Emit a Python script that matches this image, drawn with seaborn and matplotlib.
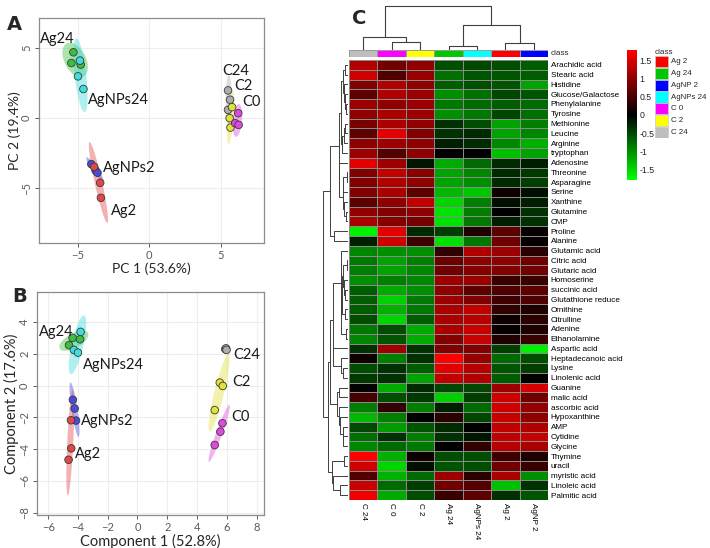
import numpy as np
import pandas as pd
import matplotlib
matplotlib.use("Agg")
import matplotlib.pyplot as plt
import seaborn as sns
from matplotlib.colors import LinearSegmentedColormap, ListedColormap, to_rgba
from matplotlib.patches import Ellipse, Rectangle

# ---------------- data: panel A (PCA) ----------------
pca_group = ["Ag24"] * 3 + ["AgNPs24"] * 3 + ["AgNPs2"] * 3 + ["Ag2"] * 3 + ["C24"] * 3 + ["C2"] * 3 + ["C0"] * 3
pca_pc1 = [-5.30, -5.44, -4.79, -4.84, -4.98, -4.60, -4.05, -3.75, -3.62, -3.85, -3.43, -3.38,
           5.49, 5.63, 5.49, 5.77, 5.60, 5.66, 6.20, 5.99, 6.23]
pca_pc2 = [4.66, 3.90, 3.79, 4.07, 2.95, 2.05, -3.29, -3.75, -3.90, -3.48, -4.62, -5.69,
           1.95, 1.29, 0.57, 0.76, -0.02, -0.69, 0.33, -0.38, -0.50]

# ---------------- data: panel B (PLS-DA) ----------------
pls_group = pca_group
pls_c1 = [-4.36, -4.60, -3.86, -3.82, -4.27, -4.00, -4.34, -4.22, -4.13, -4.47, -4.45, -4.63,
          5.90, 5.95, 5.98, 5.53, 5.73, 5.19, 5.71, 5.57, 5.19]
pls_c2 = [3.01, 2.55, 2.92, 3.39, 2.25, 2.08, -0.89, -1.44, -2.20, -2.18, -3.95, -4.67,
          2.30, 2.35, 2.25, 0.19, -0.02, -1.54, -2.37, -2.90, -3.74]

group_names = ["Ag24", "AgNPs24", "AgNPs2", "Ag2", "C24", "C2", "C0"]
group_colors = ["#3DBE3D", "#3FDDDD", "#4A4ADD", "#E04848", "#ADADAD", "#E2E23A", "#DD4ADD"]

# ---------------- data: panel C (heatmap) ----------------
metabolites = ["Arachidic acid", "Stearic acid", "Histidine", "Glucose/Galactose", "Phenylalanine",
               "Tyrosine", "Methionine", "Leucine", "Arginine", "tryptophan", "Adenosine",
               "Threonine", "Asparagine", "Serine", "Xanthine", "Glutamine", "CMP", "Proline",
               "Alanine", "Glutamic acid", "Citric acid", "Glutaric acid", "Homoserine",
               "succinic acid", "Glutathione reduce", "Ornithine", "Citrulline", "Adenine",
               "Ethanolamine", "Aspartic acid", "Heptadecanoic acid", "Lysine", "Linolenic acid",
               "Guanine", "malic acid", "ascorbic acid", "Hypoxanthine", "AMP", "Cytidine",
               "Glycine", "Thymine", "uracil", "myristic acid", "Linoleic acid", "Palmitic acid"]
samples = ["C 24", "C 0", "C 2", "Ag 24", "AgNPs 24", "Ag 2", "AgNP 2"]

c24 = [1.25, 1.45, 0.9, 0.65, 1.1, 1.0, 0.85, 0.65, 1.0, 1.1,
       1.6, 0.9, 0.9, 0.9, 0.65, 1.0, 1.2, -1.7, -0.22, -0.95,
       -0.85, -0.9, -1.0, -0.65, -0.65, -0.65, -0.55, -0.85, -0.95, -0.35,
       0.1, -0.55, -0.4, 0.02, 0.5, -0.9, -1.3, -0.5, -0.8, -0.95,
       1.8, 1.45, 0.55, 1.4, 1.7]
c0 = [0.8, 0.55, 1.25, 1.25, 1.0, 1.2, 1.2, 1.6, 1.1, 0.6,
      1.1, 1.35, 1.25, 1.2, 1.0, 0.9, 0.95, 1.6, 1.45, -1.0,
      -1.15, -1.15, -0.9, -1.2, -1.45, -1.25, -1.5, -0.55, -0.6, 1.1,
      -0.9, -0.35, -0.35, -1.2, -0.55, 0.35, -0.9, -1.1, -0.35, -0.75,
      -1.25, -1.5, -1.25, -0.75, -1.2]
c2 = [1.0, 1.05, 1.0, 1.1, 1.1, 1.1, 1.0, 0.9, 1.0, 1.0,
      -0.15, 0.95, 1.0, 0.65, 1.35, 1.0, 0.85, -0.3, 0.45, -1.0,
      -0.9, -0.95, -0.95, -1.0, -0.85, -0.85, -0.65, -1.2, -1.2, -0.35,
      -0.35, -0.65, -1.15, -0.3, -0.4, -0.9, 0.0, -0.6, -0.9, -0.85,
      0.1, -0.1, -0.75, -0.45, -0.55]
ag24 = [-0.55, -0.8, -0.65, -1.0, -0.85, -1.0, -0.35, -0.35, -0.22, 0.0,
        -1.2, -1.15, -1.15, -1.3, -1.5, -1.6, -1.6, -0.45, -1.6, 0.35,
        0.75, 0.8, 1.1, 1.0, 1.1, 1.2, 1.2, 1.2, 0.95, 0.9,
        1.8, 1.6, 1.35, -0.5, -1.45, -0.22, 0.3, -0.3, -0.35, 0.0,
        -0.55, -0.6, 1.1, 0.8, 0.4]
agnps24 = [-0.5, -0.6, -0.55, -0.8, -0.75, -0.85, -0.55, -0.3, -0.3, 0.0,
           -0.75, -0.95, -1.0, -1.4, -0.9, -0.9, -0.85, 0.22, -0.85, 1.25,
           1.0, 0.95, 1.1, 0.65, 0.9, 1.35, 1.3, 1.4, 1.4, 0.9,
           1.05, 1.3, 1.25, -0.5, -0.45, -0.75, -0.5, 0.0, -0.15, 0.35,
           -0.55, -0.55, 0.3, 0.6, 0.65]
ag2 = [-0.55, -0.6, -0.6, -0.5, -0.65, -0.5, -1.15, -1.15, -0.95, -1.35,
       -0.3, -0.3, -0.3, 0.1, -0.1, 0.0, -0.22, 0.65, 0.8, 1.1,
       1.0, 0.9, 0.4, 0.55, 0.45, 0.35, 0.1, 0.05, 0.22, -0.45,
       -0.75, -0.6, -0.65, 1.1, 1.45, 1.45, 1.4, 1.35, 1.35, 1.3,
       0.45, 0.8, 1.2, -1.35, -0.35]
agnp2 = [-0.65, -0.65, -1.15, -0.6, -0.75, -0.8, -0.9, -0.95, -1.25, -1.15,
         -0.2, -0.4, -0.45, -0.1, -0.22, -0.35, -0.35, 0.05, 0.05, 0.3,
         0.8, 0.8, 0.4, 0.65, 0.55, 0.22, 0.3, 0.22, 0.4, -1.7,
         -0.55, -0.45, 0.0, 1.5, 0.8, 1.05, 1.0, 1.25, 1.4, 1.2,
         0.22, 0.4, -1.0, -0.35, -0.6]

# column dendrogram (scipy-like linkage: left, right, height); leaves 0..6 = samples
col_link_left = [1, 3, 5, 0, 8, 10]
col_link_right = [2, 4, 6, 7, 9, 11]
col_link_height = [0.18, 0.09, 0.16, 0.30, 0.57, 1.0]

legend_classes = ["Ag 2", "Ag 24", "AgNP 2", "AgNPs 24", "C 0", "C 2", "C 24"]
class_colors = {"Ag 2": "#FF0000", "Ag 24": "#00C800", "AgNP 2": "#0000FF", "AgNPs 24": "#00FFFF",
                "C 0": "#FF00FF", "C 2": "#FFFF00", "C 24": "#BEBEBE"}
cbar_ticks = [1.5, 1, 0.5, 0, -0.5, -1, -1.5]

# ---------------- figure ----------------
sns.set_theme(style="white")
plt.rcParams["font.family"] = ["Lato", "DejaVu Sans"]
W, H = 710, 548
fig = plt.figure(figsize=(W / 100, H / 100), dpi=100)
fig.patch.set_facecolor("white")


def ax_px(l, t, r, b):
    return fig.add_axes([l / W, 1 - b / H, (r - l) / W, (b - t) / H])


def draw_ellipse(ax, x, y, color, k=2.6):
    pts = np.column_stack([x, y])
    m = pts.mean(axis=0)
    cov = np.cov(pts, rowvar=False)
    vals, vecs = np.linalg.eigh(cov)
    order = vals.argsort()[::-1]
    vals, vecs = vals[order], vecs[:, order]
    ang = np.degrees(np.arctan2(vecs[1, 0], vecs[0, 0]))
    w = 2 * k * np.sqrt(max(vals[0], 0.01))
    h = 2 * k * np.sqrt(max(vals[1], 0.006))
    ax.add_patch(Ellipse(m, w, h, angle=ang, facecolor=to_rgba(color, 0.42), edgecolor="none", zorder=1))


def scatter_panel(ax, df, xcol, ycol, xlim, ylim, xticks, yticks, xlabel, ylabel, labels, lsize):
    ax.set_facecolor("white")
    for g, c in zip(group_names, group_colors):
        sub = df[df["group"] == g]
        draw_ellipse(ax, sub[xcol].values, sub[ycol].values, c)
    sns.scatterplot(data=df, x=xcol, y=ycol, hue="group", palette=dict(zip(group_names, group_colors)),
                    s=30, edgecolor="#3a3a3a", linewidth=0.6, legend=False, ax=ax, zorder=3)
    ax.set_xlim(*xlim)
    ax.set_ylim(*ylim)
    ax.set_xticks(xticks)
    ax.set_yticks(yticks)
    ax.grid(True, color="#EDEDED", linewidth=0.8)
    ax.set_axisbelow(True)
    for s in ax.spines.values():
        s.set_color("#8C8C8C")
        s.set_linewidth(0.9)
    ax.tick_params(axis="both", labelsize=8, colors="#5A5A5A", length=3, width=0.7, direction="out",
                   bottom=True, left=True, pad=2)
    for t in ax.get_yticklabels():
        t.set_rotation(90)
        t.set_va("center")
    ax.set_xlabel(xlabel, fontsize=lsize, color="#262626", labelpad=1)
    ax.set_ylabel(ylabel, fontsize=lsize, color="#262626", labelpad=0)
    for txt, tx, ty in labels:
        ax.text(tx, ty, txt, fontsize=10.5, color="#1a1a1a", ha="left", va="center", zorder=5)


dfA = pd.DataFrame({"group": pca_group, "pc1": pca_pc1, "pc2": pca_pc2})
axA = ax_px(39, 18, 264, 243)
scatter_panel(axA, dfA, "pc1", "pc2", (-7.7, 8.0), (-8.9, 7.1), [-5, 0, 5], [-5, 0, 5],
              "PC 1 (53.6%)", "PC 2 (19.4%)",
              [("Ag24", -7.65, 5.6), ("AgNPs24", -4.27, 1.3), ("AgNPs2", -3.26, -3.6),
               ("Ag2", -2.68, -6.6), ("C24", 5.07, 3.35), ("C2", 5.94, 2.25), ("C0", 6.48, 1.15)], 10)

dfB = pd.DataFrame({"group": pls_group, "c1": pls_c1, "c2": pls_c2})
axB = ax_px(37, 292, 264, 515)
scatter_panel(axB, dfB, "c1", "c2", (-6.75, 8.5), (-8.15, 5.9), [-6, -4, -2, 0, 2, 4, 6, 8],
              [4, 2, 0, -2, -4, -6, -8], "Component 1 (52.8%)", "Component 2 (17.6%)",
              [("Ag24", -6.64, 3.35), ("AgNPs24", -3.64, 1.3), ("AgNPs2", -3.82, -2.2),
               ("Ag2", -4.22, -4.33), ("C24", 6.43, 1.9), ("C2", 6.36, 0.2), ("C0", 6.27, -1.95)], 10.5)

fig.text(7 / W, 1 - 24 / H, "A", fontsize=14, fontweight="bold", family="DejaVu Sans", va="center")
fig.text(12 / W, 1 - 296 / H, "B", fontsize=14, fontweight="bold", family="DejaVu Sans", va="center")
fig.text(352 / W, 1 - 19 / H, "C", fontsize=14, fontweight="bold", family="DejaVu Sans", va="center")

# ---------------- heatmap ----------------
mat = pd.DataFrame(np.column_stack([c24, c0, c2, ag24, agnps24, ag2, agnp2]),
                   index=metabolites, columns=samples)
cmap = LinearSegmentedColormap.from_list("gkr", ["#00FF00", "#000000", "#FF0000"])
hx0, hx1, hy0, hy1 = 349, 548, 60, 500
axH = ax_px(hx0, hy0, hx1, hy1)
cax = ax_px(627, 50, 637, 180)
sns.heatmap(mat, cmap=cmap, vmin=-1.8, vmax=1.8, linewidths=0.6, linecolor="#8a8a8a",
            cbar_ax=cax, cbar_kws={"ticks": cbar_ticks}, ax=axH)
axH.set_xlabel("")
axH.set_ylabel("")
axH.yaxis.tick_right()
axH.set_yticks(np.arange(len(metabolites)) + 0.5)
axH.set_yticklabels(metabolites, fontsize=5.9, family="Liberation Sans", color="black", rotation=0)
axH.set_xticks(np.arange(len(samples)) + 0.5)
axH.set_xticklabels(samples, fontsize=5.9, family="Liberation Sans", color="black", rotation=270,
                    va="top", ha="center")
axH.tick_params(length=0, pad=2)
cax.set_yticks(cbar_ticks)
cax.set_yticklabels([("%g" % t) for t in cbar_ticks], fontsize=6.3, family="Liberation Sans")
cax.tick_params(length=0, pad=2)
for s in cax.spines.values():
    s.set_visible(False)
cb = axH.collections[0].colorbar
if cb is not None:
    cb.outline.set_visible(False)

# class bar
axC = ax_px(hx0, 50, hx1, 57)
class_idx = [legend_classes.index(s) for s in samples]
sns.heatmap(pd.DataFrame([class_idx]), cmap=ListedColormap([class_colors[c] for c in legend_classes]),
            vmin=-0.5, vmax=len(legend_classes) - 0.5, cbar=False, linewidths=0.4, linecolor="#9a9a9a",
            xticklabels=False, yticklabels=False, ax=axC)
axC.text(1.015, 0.5, "class", transform=axC.transAxes, fontsize=5.9, family="Liberation Sans",
         va="center", ha="left")

# column dendrogram
axD = ax_px(hx0, 5, hx1, 50)
pos = {i: i + 0.5 for i in range(len(samples))}
hgt = {i: 0.0 for i in range(len(samples))}
for n, (a, b, h) in enumerate(zip(col_link_left, col_link_right, col_link_height)):
    nid = len(samples) + n
    axD.plot([pos[a], pos[a], pos[b], pos[b]], [hgt[a], h, h, hgt[b]], color="#404040", lw=0.8)
    pos[nid] = (pos[a] + pos[b]) / 2
    hgt[nid] = h
axD.set_xlim(0, len(samples))
axD.set_ylim(0, 1.02)
axD.axis("off")

# row dendrogram: adjacency-constrained average linkage on the heatmap values
X = mat.values
nodes = [{"m": [i], "y": i + 0.5, "h": 0.0} for i in range(len(metabolites))]
segs = []
while len(nodes) > 1:
    best = None
    for k in range(len(nodes) - 1):
        a, b = nodes[k], nodes[k + 1]
        d = np.mean([np.linalg.norm(X[i] - X[j]) for i in a["m"] for j in b["m"]])
        if best is None or d < best[0]:
            best = (d, k)
    d, k = best
    a, b = nodes[k], nodes[k + 1]
    h = max(d, a["h"], b["h"])
    segs.append(([a["h"], h, h, b["h"]], [a["y"], a["y"], b["y"], b["y"]]))
    nodes[k:k + 2] = [{"m": a["m"] + b["m"], "y": (a["y"] + b["y"]) / 2, "h": h}]
axR = ax_px(322, hy0, 348, hy1)
for xs, ys in segs:
    axR.plot(xs, ys, color="#404040", lw=0.7)
axR.set_xlim(nodes[0]["h"] * 1.02, 0)
axR.set_ylim(len(metabolites), 0)
axR.axis("off")

# class legend
axL = ax_px(655, 56, 710, 138)
axL.set_xlim(0, 1)
axL.set_ylim(len(legend_classes), 0)
axL.axis("off")
axL.text(0.0, -0.3, "class", fontsize=5.9, family="Liberation Sans", va="center", ha="left", clip_on=False)
for i, c in enumerate(legend_classes):
    axL.add_patch(Rectangle((0.0, i + 0.03), 0.236, 0.94, facecolor=class_colors[c], edgecolor="#c8c8c8", lw=0.5))
    axL.text(0.29, i + 0.5, c, fontsize=5.7, family="Liberation Sans", va="center", ha="left")

fig.savefig("out.png", dpi=100, facecolor="white")
